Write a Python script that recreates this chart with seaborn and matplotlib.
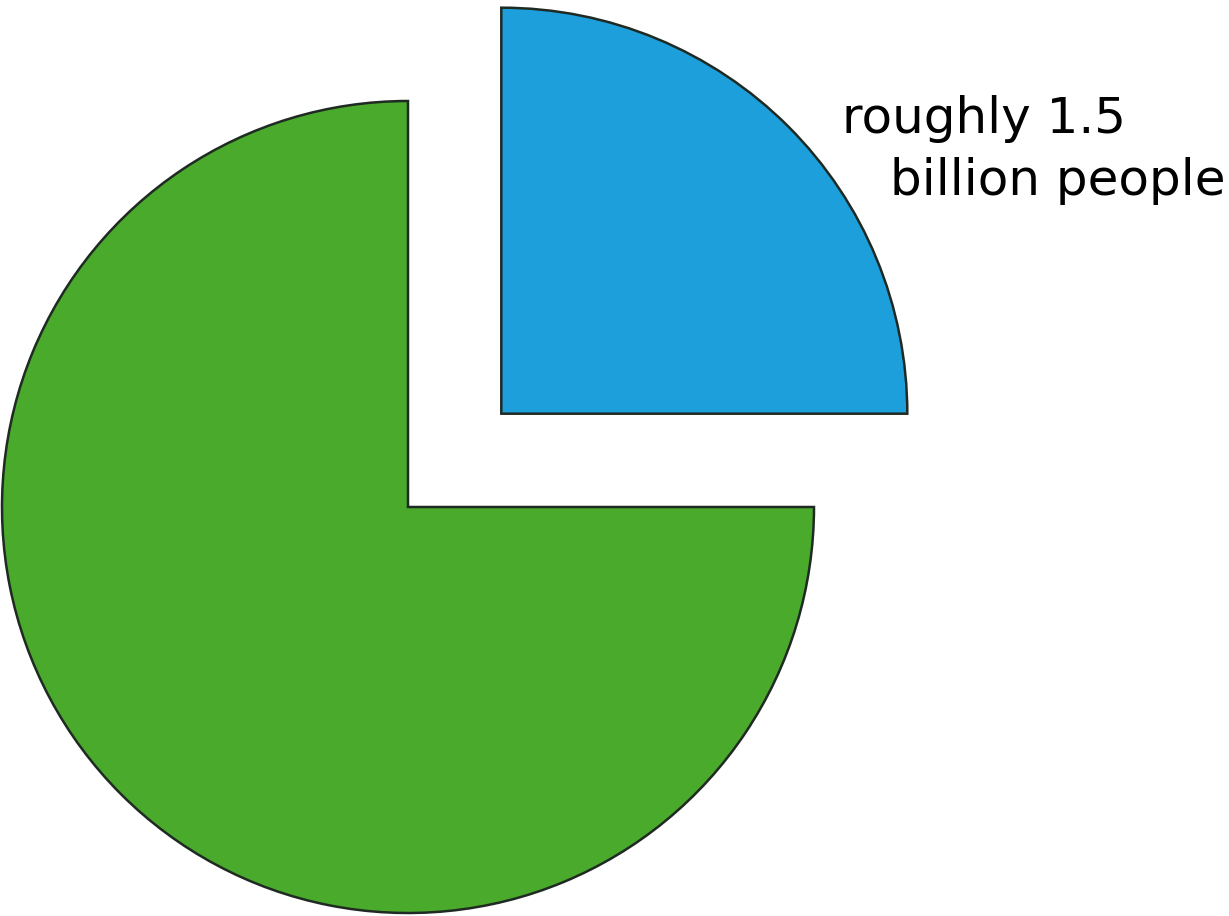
import matplotlib
matplotlib.use("Agg")
import matplotlib.pyplot as plt
import seaborn as sns

# Data
categories = ["roughly 1.5 billion people", "rest of the world"]
shares = [25, 75]
explode_fractions = [0.325, 0.0]
label_lines = ["roughly 1.5", "billion people"]

sns.set_theme(style="white")
plt.rcParams['font.family'] = ['DejaVu Sans']

colors = ["#1d9fdb", "#4aaa2b"]

W, H = 1229, 916
R = 406
fig = plt.figure(figsize=(W / 100, H / 100), dpi=100)
ax = fig.add_axes([0, 0, 1, 1])

ax.pie(shares, explode=[f * R for f in explode_fractions], colors=colors,
       startangle=0, counterclock=True, center=(408, H - 507), radius=R,
       frame=True,
       wedgeprops=dict(edgecolor="#1f2a22", linewidth=1.8))
ax.set_xlim(0, W)
ax.set_ylim(0, H)
ax.set_aspect("equal")
ax.axis("off")

ax.text(842, H - 133, label_lines[0], fontsize=36, color="black",
        ha="left", va="baseline")
ax.text(1225, H - 195, label_lines[1], fontsize=36, color="black",
        ha="right", va="baseline")

fig.savefig("out.png", dpi=100, facecolor="white")
